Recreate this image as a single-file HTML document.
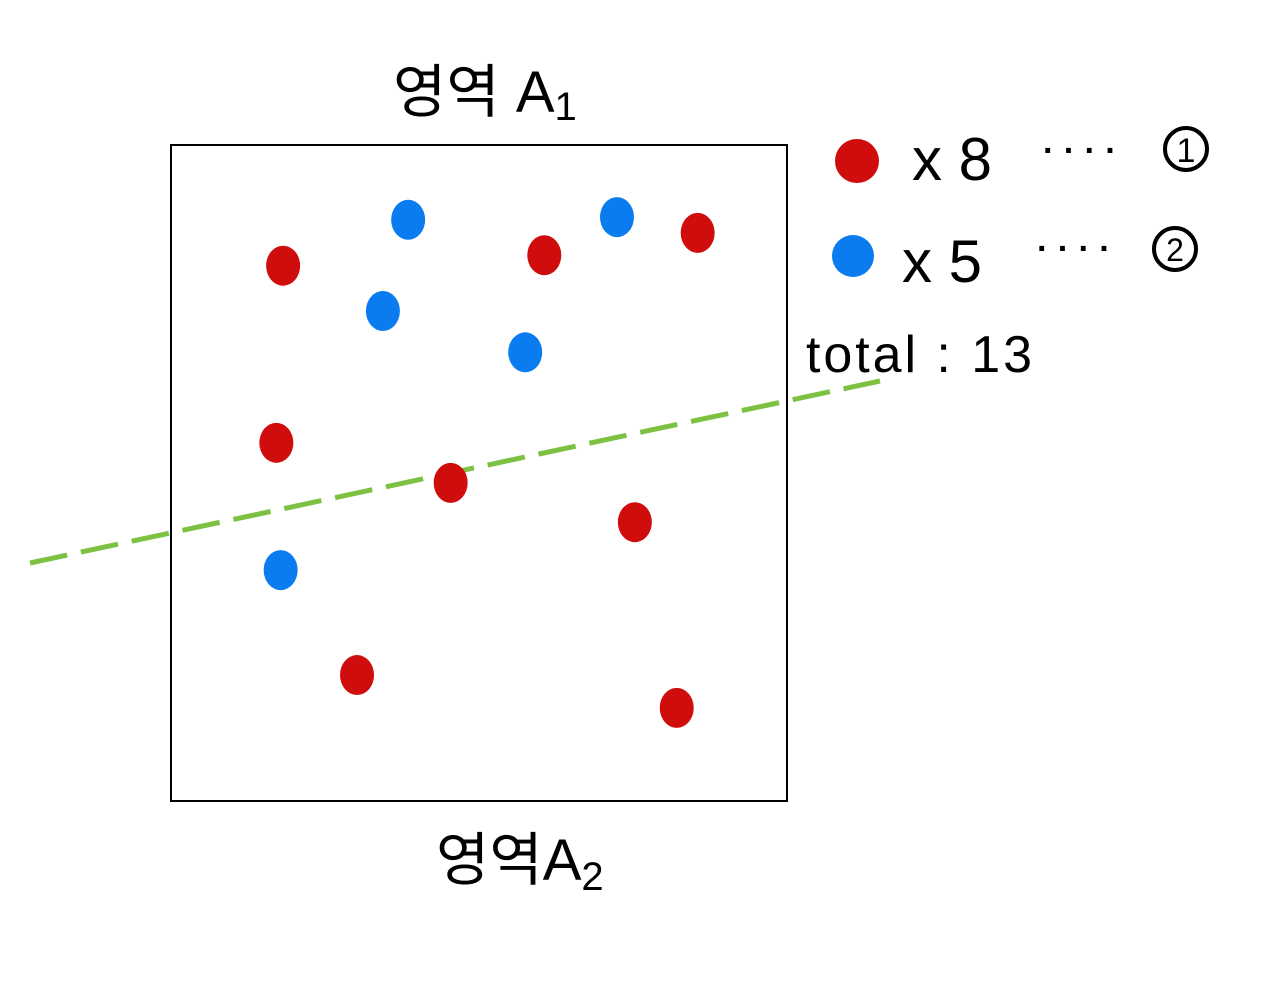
<!DOCTYPE html>
<html><head><meta charset="utf-8"><style>
html,body{margin:0;padding:0;background:#fff;width:1285px;height:1000px;overflow:hidden}
svg{display:block}
text{font-family:"Liberation Sans","Noto Sans CJK KR",sans-serif;fill:#000}
</style></head><body>
<svg id="chart" width="1285" height="1000" viewBox="0 0 1285 1000" xmlns="http://www.w3.org/2000/svg">
<text x="393" y="112" font-size="58">영역 A<tspan font-size="40" dy="8">1</tspan></text>
<rect x="171" y="145" width="616" height="656" fill="none" stroke="#000" stroke-width="2"/>
<text x="436" y="880" font-size="58">영역A<tspan font-size="40" dy="10">2</tspan></text>
<line x1="30" y1="563" x2="880" y2="381" stroke="#7cc142" stroke-width="5" stroke-dasharray="38,14"/>
<g id="points"></g>
<circle cx="857" cy="161" r="22" fill="#d00d0d"/>
<text x="912" y="180" font-size="60">x 8</text>
<text x="1043" y="162" font-size="34" font-weight="bold">· · · ·</text>
<circle cx="1186" cy="149" r="21" fill="none" stroke="#000" stroke-width="4"/>
<text x="1186" y="162" font-size="34" text-anchor="middle">1</text>
<circle cx="853" cy="256" r="21" fill="#0a7cf0"/>
<text x="902" y="282" font-size="60">x 5</text>
<text x="1037" y="260" font-size="34" font-weight="bold">· · · ·</text>
<circle cx="1175" cy="249" r="21" fill="none" stroke="#000" stroke-width="4"/>
<text x="1175" y="261" font-size="32" text-anchor="middle">2</text>
<text x="806" y="372" font-size="52" textLength="226">total : 13</text>
</svg>
<script>
// data coordinates: box fraction 0..100 (x left->right, y top->bottom)
const redX=[18.2,60.6,85.5,17.1,45.4,75.3,30.2,82.1];
const redY=[18.4,16.8,13.4,45.4,51.5,57.5,80.8,85.8];
const blueX=[38.5,72.4,34.4,57.5,17.8];
const blueY=[11.4,11.0,25.3,31.6,64.8];
const bx=171,by=145,bw=616,bh=656;
const sx=v=>bx+v/100*bw, sy=v=>by+v/100*bh;
const g=document.getElementById('points');
function dot(x,y,c,name){
 const el=document.createElementNS('http://www.w3.org/2000/svg','ellipse');
 
 
 el.setAttribute('cx',sx(x));el.setAttribute('cy',sy(y));
 el.setAttribute('rx',17);el.setAttribute('ry',20);el.setAttribute('fill',c);
 g.appendChild(el);
}
redX.forEach((x,i)=>dot(x,redY[i],'#d00d0d','red-point'));
blueX.forEach((x,i)=>dot(x,blueY[i],'#0a7cf0','blue-point'));
</script>
</body></html>
